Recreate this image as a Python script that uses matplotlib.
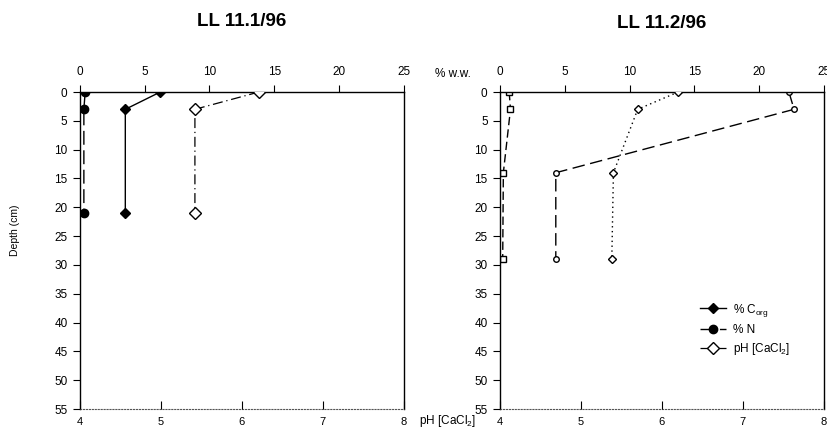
import matplotlib
matplotlib.use('Agg')
import matplotlib.pyplot as plt

plt.rcParams['font.family'] = ['Liberation Sans', 'DejaVu Sans']
plt.rcParams['mathtext.fontset'] = 'custom'
plt.rcParams['mathtext.rm'] = 'Liberation Sans'
plt.rcParams['mathtext.it'] = 'Liberation Sans:italic'

# LL 11.1/96
depth_1 = [0, 3, 21]
corg_1 = [6.2, 3.5, 3.5]
n_1 = [0.4, 0.3, 0.3]
ph_1 = [6.21, 5.42, 5.42]

# LL 11.2/96
depth_2 = [0, 3, 14, 29]
corg_2 = [22.3, 22.7, 4.3, 4.3]
n_2 = [0.7, 0.8, 0.25, 0.2]
ph_2 = [6.2, 5.7, 5.4, 5.38]

titles = ['LL 11.1/96', 'LL 11.2/96']
pct_ticks = [0, 5, 10, 15, 20, 25]
ph_ticks = [4, 5, 6, 7, 8]
depth_ticks = list(range(0, 60, 5))

fig = plt.figure(figsize=(8.28, 4.32), dpi=100)
ax1 = fig.add_axes([0.0966, 0.053, 0.391, 0.734])
ax2 = fig.add_axes([0.604, 0.053, 0.391, 0.734])


def style_axes(ax):
    # twin for the pH scale first, since twiny() moves the parent's ticks
    axp = ax.twiny()
    axp.set_xlim(4, 8)
    axp.xaxis.tick_bottom()
    axp.set_xticks(ph_ticks)
    axp.tick_params(axis='x', direction='in', length=6, width=0.8, labelsize=8, pad=6)
    for s in axp.spines.values():
        s.set_visible(False)

    ax.set_xlim(0, 25)
    ax.set_ylim(55, 0)
    ax.xaxis.tick_top()
    ax.set_xticks(pct_ticks)
    ax.set_yticks(depth_ticks)
    ax.tick_params(axis='x', direction='out', length=5, width=0.8, labelsize=8.5, pad=5)
    ax.tick_params(axis='y', direction='out', length=5, width=0.8, labelsize=8.5, pad=4)
    for s in ['left', 'right', 'top']:
        ax.spines[s].set_linewidth(1.0)
    ax.spines['bottom'].set_linestyle(':')
    ax.spines['bottom'].set_color('#555555')
    return axp


axp1 = style_axes(ax1)
axp2 = style_axes(ax2)

# left panel
h1, = ax1.plot(corg_1, depth_1, color='black', lw=1.0, marker='D', ms=5,
               mfc='black', mec='black', label='% C$_{\\mathrm{org}}$')
h2, = ax1.plot(n_1, depth_1, color='black', lw=1.0, ls=(0, (10, 4)), marker='o',
               ms=6, mfc='black', mec='black', label='% N')
h3, = axp1.plot(ph_1, depth_1, color='black', lw=0.9, ls=(0, (8, 3, 1, 3)), marker='D',
                ms=6, mfc='white', mec='black', label='pH [CaCl$_2$]')

# right panel
ax2.plot(corg_2, depth_2, color='black', lw=1.0, ls=(0, (9, 4)), marker='o', ms=4,
         mfc='white', mec='black', mew=1.0)
ax2.plot(n_2, depth_2, color='black', lw=1.0, ls=(0, (6, 3)), marker='s', ms=4,
         mfc='white', mec='black', mew=1.0)
axp2.plot(ph_2, depth_2, color='black', lw=1.0, ls=(0, (1, 2.5)), marker='D', ms=4.5,
          mfc='white', mec='black', mew=1.0)

leg = ax2.legend(handles=[h1, h2, h3], loc='lower right', bbox_to_anchor=(0.93, 0.13),
                 frameon=False, fontsize=8.5, handlelength=2.2, labelspacing=0.45,
                 handletextpad=0.6)

fig.text(0.018, 0.468, 'Depth (cm)', rotation=90, ha='center', va='center', fontsize=7.5)
fig.text(0.0966 + 0.391 / 2, 0.95, titles[0], ha='center', va='center',
         fontsize=13.5, fontweight='bold')
fig.text(0.604 + 0.391 / 2, 0.945, titles[1], ha='center', va='center',
         fontsize=13.5, fontweight='bold')
fig.text(0.547, 0.828, '% w.w.', ha='center', va='center', fontsize=8.5)
fig.text(0.540, 0.025, 'pH [CaCl$_2$]', ha='center', va='center', fontsize=8.5)

fig.savefig('out.png', dpi=100, facecolor='white')
